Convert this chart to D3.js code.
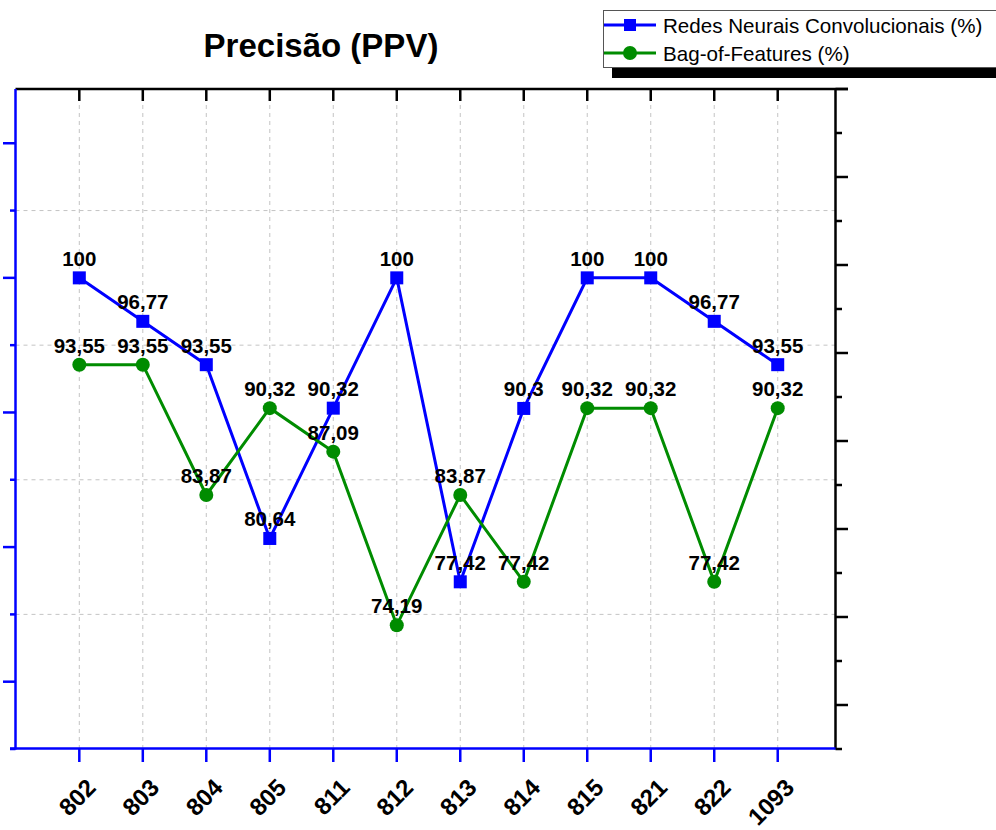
<!DOCTYPE html>
<html>
<head>
<meta charset="utf-8">
<script src="https://cdn.jsdelivr.net/npm/d3@7"></script>
<style>
  html, body { margin: 0; padding: 0; background: #fff; }
  svg { display: block; font-family: "Liberation Sans", Arial, sans-serif; }
</style>
</head>
<body>
<svg id="chart" width="996" height="830"></svg>
<script>
// ---- data ----
const categories = ["802","803","804","805","811","812","813","814","815","821","822","1093"];
const cnnValues = [100, 96.77, 93.55, 80.64, 90.32, 100, 77.42, 90.3, 100, 100, 96.77, 93.55];
const bofValues = [93.55, 93.55, 83.87, 90.32, 87.09, 74.19, 83.87, 77.42, 90.32, 90.32, 77.42, 90.32];
const seriesNames = ["Redes Neurais Convolucionais (%)", "Bag-of-Features (%)"];
const titleText = "Precisão (PPV)";
const leftMajorTicks = [70, 80, 90, 100, 110];
const leftMinorTicks = [65, 75, 85, 95, 105];
const gridTicks = [75, 85, 95, 105];

const blue = "#0000ff", green = "#008c00";
const svg = d3.select("#chart");

const L = 15.5, R = 835.5, T = 89, B = 748.5;
const x = d3.scaleLinear().domain([-1.005, 11.91]).range([L, R]);
const y = d3.scaleLinear().domain([65, 114.03]).range([749, 89]);
const yr = d3.scaleLinear().domain([0, 7.5]).range([89, 749]);

// grid
const g = svg.append("g");
g.selectAll("line.vg").data(categories).join("line")
  .attr("x1", (d,i) => x(i)).attr("x2", (d,i) => x(i))
  .attr("y1", T).attr("y2", B)
  .attr("stroke", "#c4c4c4").attr("stroke-width", 1).attr("stroke-dasharray", "4,4");
g.selectAll("line.hg").data(gridTicks).join("line")
  .attr("x1", L).attr("x2", R)
  .attr("y1", d => y(d)).attr("y2", d => y(d))
  .attr("stroke", "#c4c4c4").attr("stroke-width", 1).attr("stroke-dasharray", "4,4");

// top axis (black) with inward ticks
svg.append("line").attr("x1", L).attr("x2", 848).attr("y1", T).attr("y2", T)
  .attr("stroke", "#000").attr("stroke-width", 2.5);
svg.selectAll("line.tt").data(categories).join("line")
  .attr("x1", (d,i) => x(i)).attr("x2", (d,i) => x(i))
  .attr("y1", T).attr("y2", T + 12)
  .attr("stroke", "#000").attr("stroke-width", 2.5);

// right axis (black)
svg.append("line").attr("x1", R).attr("x2", R).attr("y1", T).attr("y2", 749.5)
  .attr("stroke", "#000").attr("stroke-width", 2.5);
const rMajor = d3.range(0, 8), rMinor = d3.range(0.5, 8, 1);
svg.selectAll("line.rM").data(rMajor).join("line")
  .attr("x1", R).attr("x2", 848).attr("y1", d => yr(d)).attr("y2", d => yr(d))
  .attr("stroke", "#000").attr("stroke-width", 2.5);
svg.selectAll("line.rm").data(rMinor).join("line")
  .attr("x1", R).attr("x2", 842).attr("y1", d => yr(d)).attr("y2", d => yr(d))
  .attr("stroke", "#000").attr("stroke-width", 2.5);

// left axis (blue)
svg.append("line").attr("x1", L).attr("x2", L).attr("y1", T).attr("y2", 749.5)
  .attr("stroke", blue).attr("stroke-width", 2.5);
svg.selectAll("line.lM").data(leftMajorTicks).join("line")
  .attr("x1", 3).attr("x2", L).attr("y1", d => y(d)).attr("y2", d => y(d))
  .attr("stroke", blue).attr("stroke-width", 2.5);
svg.selectAll("line.lm").data(leftMinorTicks).join("line")
  .attr("x1", 10).attr("x2", L).attr("y1", d => y(d)).attr("y2", d => y(d))
  .attr("stroke", blue).attr("stroke-width", 2.5);

// bottom axis (blue)
svg.append("line").attr("x1", 10).attr("x2", R).attr("y1", B).attr("y2", B)
  .attr("stroke", blue).attr("stroke-width", 2.5);
svg.selectAll("line.bt").data(categories).join("line")
  .attr("x1", (d,i) => x(i)).attr("x2", (d,i) => x(i))
  .attr("y1", B).attr("y2", 762)
  .attr("stroke", blue).attr("stroke-width", 2.5);
svg.selectAll("text.xl").data(categories).join("text")
  .attr("transform", (d,i) => `translate(${x(i) + 18},789) rotate(-45)`)
  .attr("text-anchor", "end")
  .attr("font-size", 24).attr("font-weight", "bold").attr("fill", "#000")
  .text(d => d);

// lines
const line = d3.line().x((d,i) => x(i)).y(d => y(d));
svg.append("path").datum(cnnValues).attr("d", line)
  .attr("fill", "none").attr("stroke", blue).attr("stroke-width", 3);
svg.append("path").datum(bofValues).attr("d", line)
  .attr("fill", "none").attr("stroke", green).attr("stroke-width", 3);

// markers
svg.selectAll("rect.cm").data(cnnValues).join("rect")
  .attr("x", (d,i) => x(i) - 6.5).attr("y", d => y(d) - 6.5)
  .attr("width", 13).attr("height", 13).attr("fill", blue);
svg.selectAll("circle.bm").data(bofValues).join("circle")
  .attr("cx", (d,i) => x(i)).attr("cy", d => y(d)).attr("r", 7)
  .attr("fill", green);

// data labels
const fmt = v => String(v).replace(".", ",");
function labels(vals) {
  svg.append("g").selectAll("text").data(vals).join("text")
    .attr("x", (d,i) => x(i)).attr("y", d => y(d) - 12)
    .attr("text-anchor", "middle")
    .attr("font-size", 20.5).attr("font-weight", "bold").attr("fill", "#000")
    .text(fmt);
}
labels(cnnValues);
labels(bofValues);

// title
svg.append("text").attr("x", 321).attr("y", 57).attr("text-anchor", "middle")
  .attr("font-size", 33).attr("font-weight", "bold").attr("fill", "#000")
  .text(titleText);

// legend
const lg = svg.append("g");
lg.append("rect").attr("x", 612).attr("y", 20).attr("width", 400).attr("height", 58).attr("fill", "#000");
lg.append("rect").attr("x", 603.5).attr("y", 10.5).attr("width", 400).attr("height", 57)
  .attr("fill", "#fff").attr("stroke", "#555").attr("stroke-width", 1);
const legendItems = [
  {name: seriesNames[0], color: blue, shape: "square", ly: 25, ty: 33},
  {name: seriesNames[1], color: green, shape: "circle", ly: 53, ty: 61}
];
legendItems.forEach(it => {
  lg.append("line").attr("x1", 604).attr("x2", 656).attr("y1", it.ly).attr("y2", it.ly)
    .attr("stroke", it.color).attr("stroke-width", 3);
  if (it.shape === "square") {
    lg.append("rect").attr("x", 624).attr("y", it.ly - 6).attr("width", 12).attr("height", 12).attr("fill", it.color);
  } else {
    lg.append("circle").attr("cx", 630).attr("cy", it.ly).attr("r", 7).attr("fill", it.color);
  }
  lg.append("text").attr("x", 663).attr("y", it.ty).attr("font-size", 20.6).attr("fill", "#000").text(it.name);
});
</script>
</body>
</html>
